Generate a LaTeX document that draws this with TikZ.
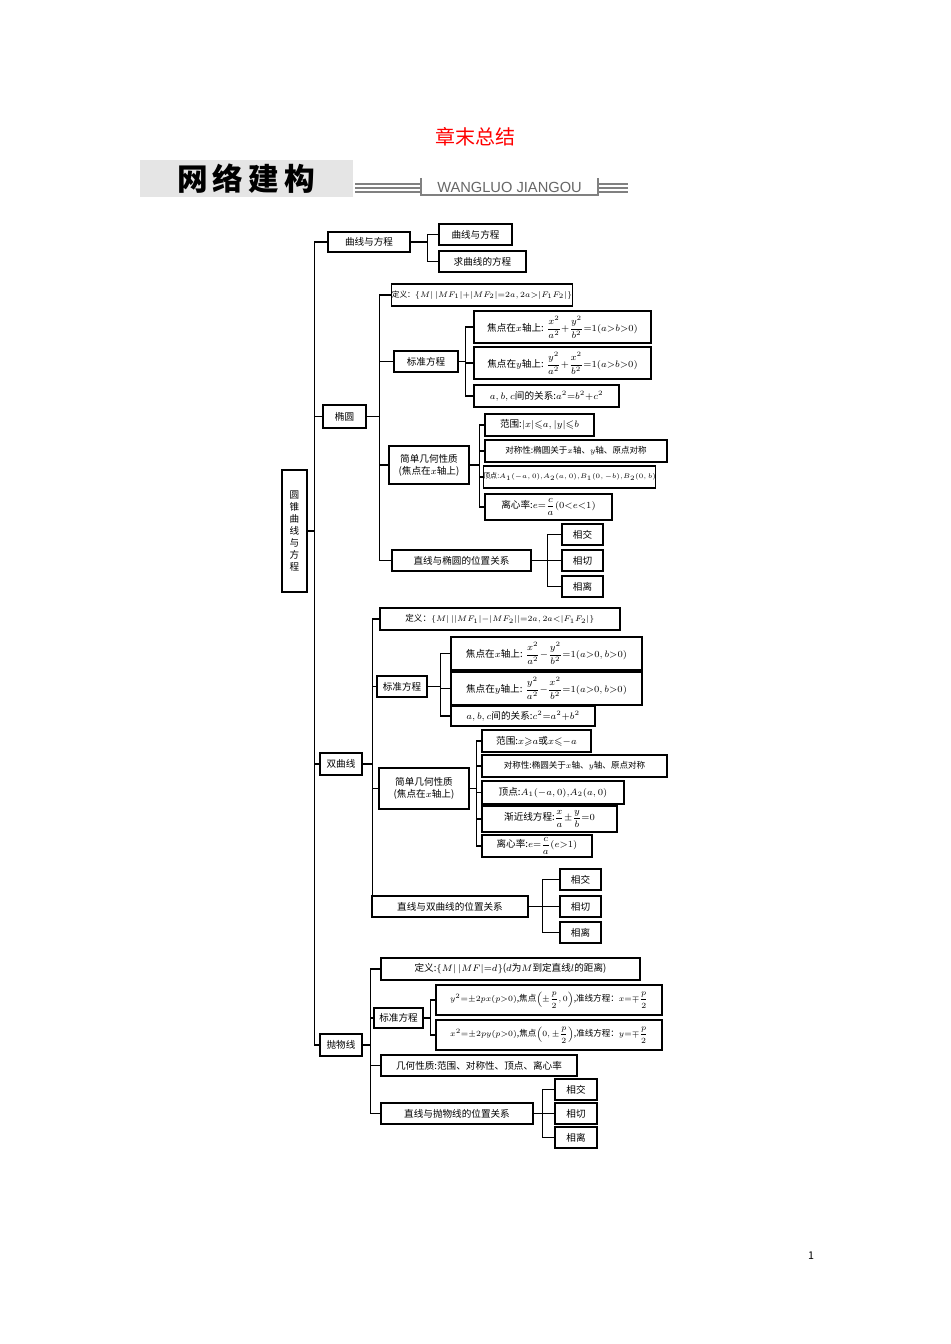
\documentclass[tikz,border=0pt]{standalone}
\usepackage{amsmath,amssymb}
\usepackage{fontspec}
\setmainfont{Noto Sans CJK SC}
\newfontfamily\lsans{Liberation Sans}
\begin{document}
\begin{tikzpicture}[x=0.75pt,y=-0.75pt,
  box/.style={draw,line width=0.8pt,inner sep=0pt,align=center,font=\fontsize{7.2}{9}\selectfont},
  sbox/.style={box,font=\fontsize{6.4}{8}\selectfont},
  tbox/.style={box,font=\fontsize{5.8}{7}\selectfont},
  con/.style={line width=0.8pt}]
\useasboundingbox (0,0) rectangle (950,1344);
\newcommand\bx[6]{\node[box,minimum width={(#4-#2)*0.75pt},minimum height={(#5-#3)*0.75pt}] (#1) at ({(#2+#4)/2},{(#3+#5)/2}) {#6};}
\newcommand\bxs[6]{\node[sbox,minimum width={(#4-#2)*0.75pt},minimum height={(#5-#3)*0.75pt}] (#1) at ({(#2+#4)/2},{(#3+#5)/2}) {#6};}
\newcommand\bxt[6]{\node[tbox,minimum width={(#4-#2)*0.75pt},minimum height={(#5-#3)*0.75pt}] (#1) at ({(#2+#4)/2},{(#3+#5)/2}) {#6};}
\newcommand\br[3]{\foreach \c in {#3} {\draw[con] (#1.east) -- ++(#2,0) |- (\c.west);}}
% header
\node[text=red,font=\fontsize{15}{16}\selectfont] (title) at (475,137) {章末总结};
\fill[gray!20] (140,160) rectangle (353,197);
\node[font=\fontsize{23}{24}\selectfont\bfseries] (hd) at (246,179) {网\,络\,建\,构};
\foreach \yy in {184,188,192} {\draw[gray,line width=1pt] (355,\yy) -- (421,\yy); \draw[gray,line width=1pt] (598,\yy) -- (628,\yy);}
\draw[gray,line width=0.8pt] (421,178) -- (421,195) -- (598,195) -- (598,178);
\node[text=gray!80!black,font=\lsans\fontsize{11}{12}\selectfont] (wl) at (509.5,187) {WANGLUO JIANGOU};
\node[font=\fontsize{8}{9}\selectfont] (pg) at (811,1256) {1};
% root
\bx{root}{282}{470}{307}{592}{圆\\锥\\曲\\线\\与\\方\\程}
\bx{qx}{328}{232}{410}{252}{曲线与方程}
\bx{ty}{323}{405}{366}{428}{椭圆}
\bx{sq}{320}{753}{362}{775}{双曲线}
\bx{pw}{320}{1034}{362}{1056}{抛物线}
\br{root}{7}{qx,ty,sq,pw}
% curve & equation
\bx{qa}{439}{224}{512}{245}{曲线与方程}
\bx{qb}{439}{251}{526}{272}{求曲线的方程}
\br{qx}{17}{qa,qb}
% ellipse
\bxt{e1}{392}{284}{572}{306}{定义：$\{M|\,|MF_1|{+}|MF_2|{=}2a,2a{>}|F_1F_2|\}$}
\bx{e2}{394}{351}{458}{372}{标准方程}
\bx{e3}{389}{446}{469}{484}{简单几何性质\\(焦点在$x$轴上)}
\bx{e4}{392}{550}{531}{571}{直线与椭圆的位置关系}
\br{ty}{13}{e1,e2,e3,e4}
\bx{e21}{474}{311}{651}{343}{焦点在$x$轴上: $\dfrac{x^2}{a^2}{+}\dfrac{y^2}{b^2}{=}1(a{>}b{>}0)$}
\bx{e22}{474}{347}{651}{379}{焦点在$y$轴上: $\dfrac{y^2}{a^2}{+}\dfrac{x^2}{b^2}{=}1(a{>}b{>}0)$}
\bx{e23}{474}{385}{619}{407}{$a,b,c$间的关系:$a^2{=}b^2{+}c^2$}
\br{e2}{7}{e21,e22,e23}
\bx{e31}{485}{414}{594}{436}{范围:$|x|{\leqslant}a,|y|{\leqslant}b$}
\bxs{e32}{485}{440}{667}{462}{对称性:椭圆关于$x$轴、$y$轴、原点对称}
\node[box,font=\fontsize{5.3}{7}\selectfont,minimum width={169*0.75pt},minimum height={22*0.75pt}] (e33) at (569.5,477) {顶点:$A_1({-}a,0),\!A_2(a,0),\!B_1(0,{-}b),\!B_2(0,b)$};
\bx{e34}{485}{494}{612}{520}{离心率:$e{=}\dfrac{c}{a}(0{<}e{<}1)$}
\br{e3}{10}{e31,e32,e33,e34}
\bx{e41}{562}{524}{603}{545}{相交}
\bx{e42}{562}{550}{603}{571}{相切}
\bx{e43}{562}{576}{603}{597}{相离}
\br{e4}{16}{e41,e42,e43}
% hyperbola
\bxs{h1}{380}{608}{620}{630}{定义：$\{M|\,||MF_1|{-}|MF_2||{=}2a,2a{<}|F_1F_2|\}$}
\bx{h2}{377}{676}{427}{697}{标准方程}
\bx{h3}{379}{768}{469}{809}{简单几何性质\\(焦点在$x$轴上)}
\bx{h4}{372}{896}{528}{917}{直线与双曲线的位置关系}
\br{sq}{10}{h1,h2,h3,h4}
\bx{h21}{451}{637}{642}{670}{焦点在$x$轴上: $\dfrac{x^2}{a^2}{-}\dfrac{y^2}{b^2}{=}1(a{>}0,b{>}0)$}
\bx{h22}{451}{672}{642}{705}{焦点在$y$轴上: $\dfrac{y^2}{a^2}{-}\dfrac{x^2}{b^2}{=}1(a{>}0,b{>}0)$}
\bx{h23}{451}{706}{595}{726}{$a,b,c$间的关系:$c^2{=}a^2{+}b^2$}
\br{h2}{13}{h21,h22,h23}
\bx{h31}{482}{730}{591}{752}{范围:$x{\geqslant}a$或$x{\leqslant}{-}a$}
\bxs{h32}{482}{755}{667}{777}{对称性:椭圆关于$x$轴、$y$轴、原点对称}
\bx{h33}{482}{781}{624}{804}{顶点:$A_1({-}a,0),\!A_2(a,0)$}
\bx{h34}{482}{806}{617}{832}{渐近线方程:$\dfrac{x}{a}{\pm}\dfrac{y}{b}{=}0$}
\bx{h35}{482}{835}{592}{857}{离心率:$e{=}\dfrac{c}{a}(e{>}1)$}
\br{h3}{7}{h31,h32,h33,h34,h35}
\bx{h41}{560}{869}{601}{890}{相交}
\bx{h42}{560}{896}{601}{917}{相切}
\bx{h43}{560}{922}{601}{943}{相离}
\br{h4}{14}{h41,h42,h43}
% parabola
\bx{p1}{381}{958}{640}{980}{定义:$\{M|\,|MF|{=}d\}$($d$为$M$到定直线$l$的距离)}
\bx{p2}{374}{1008}{423}{1028}{标准方程}
\bx{p3}{381}{1055}{577}{1076}{几何性质:范围、对称性、顶点、离心率}
\bx{p4}{381}{1103}{533}{1124}{直线与抛物线的位置关系}
\br{pw}{8}{p1,p2,p3,p4}
\bxs{p21}{436}{985}{662}{1015}{$y^2{=}{\pm}2px(p{>}0)$,焦点$\Bigl({\pm}\dfrac{p}{2},0\Bigr)$,准线方程：$x{=}{\mp}\dfrac{p}{2}$}
\bxs{p22}{436}{1020}{662}{1050}{$x^2{=}{\pm}2py(p{>}0)$,焦点$\Bigl(0,{\pm}\dfrac{p}{2}\Bigr)$,准线方程：$y{=}{\mp}\dfrac{p}{2}$}
\br{p2}{7}{p21,p22}
\bx{p41}{555}{1079}{597}{1100}{相交}
\bx{p42}{555}{1103}{597}{1124}{相切}
\bx{p43}{555}{1127}{597}{1148}{相离}
\br{p4}{9}{p41,p42,p43}
\end{tikzpicture}
\end{document}
